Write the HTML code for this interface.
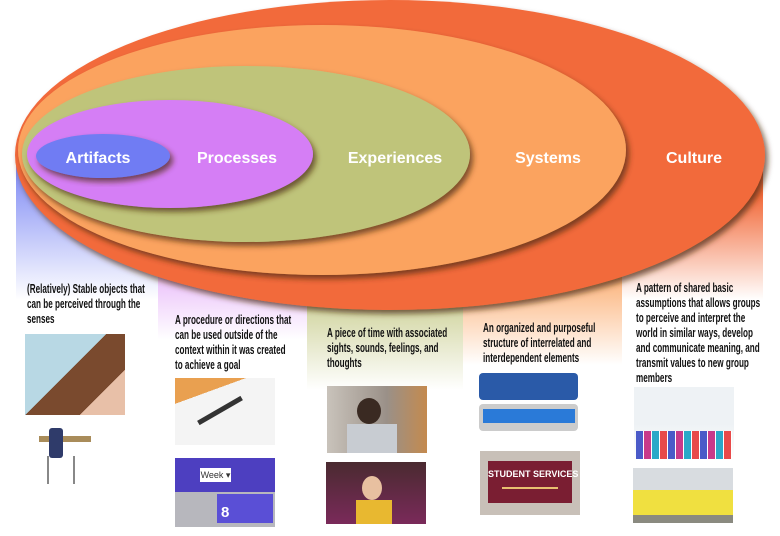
<!DOCTYPE html>
<html><head><meta charset="utf-8"><style>
body{margin:0;width:780px;height:536px;overflow:hidden;background:#fff;position:relative;font-family:"Liberation Sans",sans-serif}
.col{position:absolute;top:150px}
.t{position:absolute;font-size:12.5px;line-height:15px;color:#111;font-weight:bold;white-space:nowrap;transform:scaleX(0.65);transform-origin:0 0}
.im{position:absolute;overflow:hidden}
svg{position:absolute;left:0;top:0}
</style></head><body>
<div class="col" style="left:16px;width:142px;height:150px;background:linear-gradient(#6f7cf3,#fff)"></div>
<div class="col" style="left:158px;width:149px;height:190px;background:linear-gradient(#d57ef5 30%,#fff)"></div>
<div class="col" style="left:307px;width:156px;height:240px;background:linear-gradient(#bfc47a 50%,#fff)"></div>
<div class="col" style="left:463px;width:159px;height:215px;background:linear-gradient(#fba35f 50%,#fff)"></div>
<div class="col" style="left:622px;width:141px;height:150px;background:linear-gradient(#f26a3a 30%,#fff)"></div>
<svg width="780" height="536">
<defs><filter id="s" x="-10%" y="-10%" width="120%" height="130%"><feDropShadow dx="3" dy="4" stdDeviation="3" flood-color="#4a2a10" flood-opacity="0.7"/></filter></defs>
<ellipse cx="390" cy="155" rx="375" ry="155" fill="#f26a3a" filter="url(#s)"/>
<ellipse cx="322" cy="150" rx="304" ry="125" fill="#fba35f" filter="url(#s)"/>
<ellipse cx="246" cy="154" rx="224" ry="88" fill="#bfc47a" filter="url(#s)"/>
<ellipse cx="170" cy="154" rx="143" ry="54" fill="#d57ef5" filter="url(#s)"/>
<ellipse cx="103" cy="156" rx="67" ry="22" fill="#6f7cf3" filter="url(#s)"/>
<g fill="#fff" font-family="Liberation Sans,sans-serif" font-weight="bold" font-size="16" text-anchor="middle">
<text x="98" y="163">Artifacts</text><text x="237" y="163">Processes</text><text x="395" y="163">Experiences</text><text x="548" y="163">Systems</text><text x="694" y="163">Culture</text></g>
</svg>
<div class="t" style="left:27px;top:282px">(Relatively) Stable objects that<br>can be perceived through the<br>senses</div>
<div class="t" style="left:175px;top:313px">A procedure or directions that<br>can be used outside of the<br>context within it was created<br>to achieve a goal</div>
<div class="t" style="left:327px;top:326px">A piece of time with associated<br>sights, sounds, feelings, and<br>thoughts</div>
<div class="t" style="left:483px;top:321px">An organized and purposeful<br>structure of interrelated and<br>interdependent elements</div>
<div class="t" style="left:636px;top:281px">A pattern of shared basic<br>assumptions that allows groups<br>to perceive and interpret the<br>world in similar ways, develop<br>and communicate meaning, and<br>transmit values to new group<br>members</div>
<div class="im" style="left:25px;top:334px;width:100px;height:81px;background:linear-gradient(135deg,#b8d8e4 0 45%,#7a4a2e 45% 75%,#e8c0a8 75%)"></div>
<div class="im" style="left:37px;top:428px;width:56px;height:58px"><div style="position:absolute;left:2px;top:8px;width:52px;height:6px;background:#a98c5a"></div><div style="position:absolute;left:12px;top:0;width:14px;height:30px;background:#2f3b6a;border-radius:3px"></div><div style="position:absolute;left:10px;top:28px;width:2px;height:28px;background:#888"></div><div style="position:absolute;left:36px;top:28px;width:2px;height:28px;background:#888"></div></div>
<div class="im" style="left:175px;top:378px;width:100px;height:67px;background:linear-gradient(160deg,#e9a050 0 25%,#f4f4f4 25%)"><div style="position:absolute;left:20px;top:30px;width:50px;height:5px;background:#333;transform:rotate(-30deg)"></div></div>
<div class="im" style="left:175px;top:458px;width:100px;height:69px;background:#b7b7bd"><div style="position:absolute;left:0;top:0;width:100px;height:34px;background:#4d3fc0"></div><div style="position:absolute;left:25px;top:10px;width:31px;height:14px;background:#fff;font:9px sans-serif;color:#333;line-height:14px;text-align:center">Week ▾</div><div style="position:absolute;left:42px;top:36px;width:52px;height:29px;background:#5a4fd6;color:#fff;font:bold 15px sans-serif;padding-left:4px;line-height:38px">8</div></div>
<div class="im" style="left:327px;top:386px;width:100px;height:67px;background:linear-gradient(90deg,#c9c3bb,#9a9088 60%,#c48a4e)"><div style="position:absolute;left:30px;top:12px;width:24px;height:26px;background:#3a2a22;border-radius:50%"></div><div style="position:absolute;left:20px;top:38px;width:50px;height:29px;background:#c8ccd2"></div></div>
<div class="im" style="left:326px;top:462px;width:100px;height:62px;background:linear-gradient(#4a2a30,#7a2a5a)"><div style="position:absolute;left:36px;top:14px;width:20px;height:24px;background:#e8c0a0;border-radius:50%"></div><div style="position:absolute;left:30px;top:38px;width:36px;height:24px;background:#e8b830"></div></div>
<div class="im" style="left:479px;top:373px;width:100px;height:60px"><div style="position:absolute;left:0;top:0;width:99px;height:27px;background:#2a5aa8;border-radius:4px"></div><div style="position:absolute;left:0;top:31px;width:99px;height:27px;background:#ccc;border-radius:4px"></div><div style="position:absolute;left:4px;top:36px;width:92px;height:14px;background:#2a7ad8"></div></div>
<div class="im" style="left:480px;top:451px;width:100px;height:64px;background:#c8c0b8"><div style="position:absolute;left:8px;top:10px;width:84px;height:42px;background:#7a1e32;color:#fff;font:bold 9px sans-serif;text-align:center;line-height:26px;white-space:nowrap">STUDENT SERVICES<div style="margin:0 14px;height:2px;background:#e8c070"></div></div></div>
<div class="im" style="left:634px;top:387px;width:100px;height:74px;background:linear-gradient(#eef2f5 50%,#fff)"><div style="position:absolute;left:2px;top:44px;width:96px;height:28px;background:repeating-linear-gradient(90deg,#4a5ac8 0 7px,#fff 7px 8px,#c83a8a 8px 15px,#fff 15px 16px,#2aa8c8 16px 23px,#fff 23px 24px,#e84a4a 24px 31px,#fff 31px 32px)"></div></div>
<div class="im" style="left:633px;top:468px;width:100px;height:55px;background:linear-gradient(#d8dce0 40%,#f0e040 40% 85%,#8a8a80 85%)"></div>
</body></html>
